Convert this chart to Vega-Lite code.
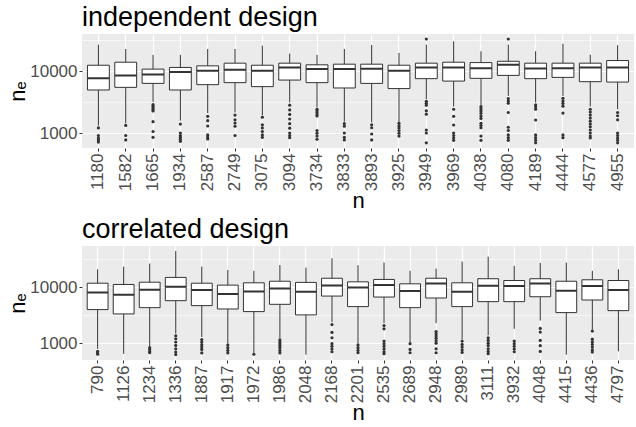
{
  "$schema": "https://vega.github.io/schema/vega-lite/v6.json",
  "padding": {"left": 6, "top": 4, "right": 0, "bottom": 0},
  "spacing": 4,
  "datasets": {
    "ind_box": [
      {"n": "1180", "lower": 1330, "q1": 5010, "median": 7730, "q3": 12600, "upper": 27100},
      {"n": "1582", "lower": 1450, "q1": 5530, "median": 8630, "q3": 14100, "upper": 23100},
      {"n": "1665", "lower": 3210, "q1": 6410, "median": 8950, "q3": 10900, "upper": 18500},
      {"n": "1934", "lower": 1600, "q1": 5010, "median": 9750, "q3": 11600, "upper": 18500},
      {"n": "2587", "lower": 2120, "q1": 6110, "median": 10250, "q3": 12300, "upper": 23100},
      {"n": "2749", "lower": 2170, "q1": 6590, "median": 10650, "q3": 13600, "upper": 23100},
      {"n": "3075", "lower": 1970, "q1": 5680, "median": 10250, "q3": 12600, "upper": 26100},
      {"n": "3094", "lower": 3150, "q1": 7250, "median": 11600, "q3": 13600, "upper": 19500},
      {"n": "3734", "lower": 2610, "q1": 6590, "median": 10900, "q3": 12800, "upper": 18500},
      {"n": "3833", "lower": 1540, "q1": 5400, "median": 10900, "q3": 13100, "upper": 23100},
      {"n": "3893", "lower": 1500, "q1": 6410, "median": 11000, "q3": 13100, "upper": 26800},
      {"n": "3925", "lower": 1500, "q1": 5280, "median": 10250, "q3": 12600, "upper": 19900},
      {"n": "3949", "lower": 3550, "q1": 7640, "median": 11600, "q3": 13600, "upper": 27100},
      {"n": "3969", "lower": 2710, "q1": 6980, "median": 11600, "q3": 14100, "upper": 30700},
      {"n": "4038", "lower": 2850, "q1": 7730, "median": 11300, "q3": 13900, "upper": 21200},
      {"n": "4080", "lower": 4020, "q1": 8630, "median": 12800, "q3": 14600, "upper": 27100},
      {"n": "4189", "lower": 3150, "q1": 7640, "median": 11170, "q3": 13600, "upper": 21200},
      {"n": "4444", "lower": 4020, "q1": 8010, "median": 11300, "q3": 13600, "upper": 28100},
      {"n": "4577", "lower": 2710, "q1": 6830, "median": 11600, "q3": 13600, "upper": 18700},
      {"n": "4955", "lower": 2450, "q1": 6730, "median": 11600, "q3": 15000, "upper": 26500}
    ],
    "ind_out": [
      {"n": "1180", "v": 1220}, {"n": "1180", "v": 920}, {"n": "1180", "v": 840}, {"n": "1180", "v": 780}, {"n": "1180", "v": 720},
      {"n": "1582", "v": 1340}, {"n": "1582", "v": 920}, {"n": "1582", "v": 780},
      {"n": "1665", "v": 2900}, {"n": "1665", "v": 2750}, {"n": "1665", "v": 2600}, {"n": "1665", "v": 2450}, {"n": "1665", "v": 2300}, {"n": "1665", "v": 1540}, {"n": "1665", "v": 1070}, {"n": "1665", "v": 860},
      {"n": "1934", "v": 1410}, {"n": "1934", "v": 1010}, {"n": "1934", "v": 920}, {"n": "1934", "v": 860}, {"n": "1934", "v": 800}, {"n": "1934", "v": 740},
      {"n": "2587", "v": 1880}, {"n": "2587", "v": 1600}, {"n": "2587", "v": 1310}, {"n": "2587", "v": 940}, {"n": "2587", "v": 870}, {"n": "2587", "v": 810},
      {"n": "2749", "v": 1970}, {"n": "2749", "v": 1650}, {"n": "2749", "v": 1460}, {"n": "2749", "v": 1300}, {"n": "2749", "v": 920},
      {"n": "3075", "v": 1820}, {"n": "3075", "v": 1370}, {"n": "3075", "v": 1220}, {"n": "3075", "v": 1070}, {"n": "3075", "v": 940}, {"n": "3075", "v": 860},
      {"n": "3094", "v": 2850}, {"n": "3094", "v": 2390}, {"n": "3094", "v": 2020}, {"n": "3094", "v": 1700}, {"n": "3094", "v": 1430}, {"n": "3094", "v": 1210}, {"n": "3094", "v": 1010}, {"n": "3094", "v": 920}, {"n": "3094", "v": 850},
      {"n": "3734", "v": 2450}, {"n": "3734", "v": 2300}, {"n": "3734", "v": 2150}, {"n": "3734", "v": 2000}, {"n": "3734", "v": 1900}, {"n": "3734", "v": 1110}, {"n": "3734", "v": 1000}, {"n": "3734", "v": 900}, {"n": "3734", "v": 800},
      {"n": "3833", "v": 1430}, {"n": "3833", "v": 1300}, {"n": "3833", "v": 1010}, {"n": "3833", "v": 860}, {"n": "3833", "v": 780},
      {"n": "3893", "v": 1370}, {"n": "3893", "v": 1230}, {"n": "3893", "v": 975}, {"n": "3893", "v": 780},
      {"n": "3925", "v": 1450}, {"n": "3925", "v": 1320}, {"n": "3925", "v": 1220}, {"n": "3925", "v": 1110}, {"n": "3925", "v": 1000}, {"n": "3925", "v": 900},
      {"n": "3949", "v": 33500}, {"n": "3949", "v": 3300}, {"n": "3949", "v": 3060}, {"n": "3949", "v": 2850}, {"n": "3949", "v": 2310}, {"n": "3949", "v": 2040}, {"n": "3949", "v": 1130}, {"n": "3949", "v": 1010}, {"n": "3949", "v": 700},
      {"n": "3969", "v": 2450}, {"n": "3969", "v": 1880}, {"n": "3969", "v": 1360}, {"n": "3969", "v": 1010}, {"n": "3969", "v": 920}, {"n": "3969", "v": 840}, {"n": "3969", "v": 770},
      {"n": "4038", "v": 2710}, {"n": "4038", "v": 2500}, {"n": "4038", "v": 2300}, {"n": "4038", "v": 2100}, {"n": "4038", "v": 1900}, {"n": "4038", "v": 1740}, {"n": "4038", "v": 1450}, {"n": "4038", "v": 1330}, {"n": "4038", "v": 1230}, {"n": "4038", "v": 900}, {"n": "4038", "v": 770},
      {"n": "4080", "v": 33500}, {"n": "4080", "v": 3640}, {"n": "4080", "v": 3340}, {"n": "4080", "v": 3060}, {"n": "4080", "v": 2170}, {"n": "4080", "v": 1250}, {"n": "4080", "v": 1110}, {"n": "4080", "v": 940}, {"n": "4080", "v": 850}, {"n": "4080", "v": 770},
      {"n": "4189", "v": 2880}, {"n": "4189", "v": 2670}, {"n": "4189", "v": 2450}, {"n": "4189", "v": 1640}, {"n": "4189", "v": 940}, {"n": "4189", "v": 850}, {"n": "4189", "v": 770}, {"n": "4189", "v": 700},
      {"n": "4444", "v": 3680}, {"n": "4444", "v": 3340}, {"n": "4444", "v": 3040}, {"n": "4444", "v": 2740}, {"n": "4444", "v": 2120}, {"n": "4444", "v": 940}, {"n": "4444", "v": 850},
      {"n": "4577", "v": 2450}, {"n": "4577", "v": 2200}, {"n": "4577", "v": 1970}, {"n": "4577", "v": 1760}, {"n": "4577", "v": 1570}, {"n": "4577", "v": 1410}, {"n": "4577", "v": 1270}, {"n": "4577", "v": 1130}, {"n": "4577", "v": 1010}, {"n": "4577", "v": 900}, {"n": "4577", "v": 840},
      {"n": "4955", "v": 2170}, {"n": "4955", "v": 1920}, {"n": "4955", "v": 1650}, {"n": "4955", "v": 1010}, {"n": "4955", "v": 920}, {"n": "4955", "v": 840}, {"n": "4955", "v": 770}, {"n": "4955", "v": 700}
    ],
    "cor_box": [
      {"n": "790", "lower": 800, "q1": 4020, "median": 8150, "q3": 11900, "upper": 21100},
      {"n": "1126", "lower": 650, "q1": 3360, "median": 7410, "q3": 11300, "upper": 23600},
      {"n": "1234", "lower": 885, "q1": 4350, "median": 9100, "q3": 12400, "upper": 26700},
      {"n": "1336", "lower": 1490, "q1": 5800, "median": 10300, "q3": 15100, "upper": 44800},
      {"n": "1887", "lower": 1300, "q1": 4730, "median": 8970, "q3": 11900, "upper": 23600},
      {"n": "1917", "lower": 1010, "q1": 4120, "median": 7620, "q3": 11000, "upper": 20600},
      {"n": "1972", "lower": 675, "q1": 3700, "median": 8490, "q3": 12100, "upper": 19800},
      {"n": "1986", "lower": 1240, "q1": 4990, "median": 9600, "q3": 12900, "upper": 25200},
      {"n": "2048", "lower": 630, "q1": 3230, "median": 8380, "q3": 12300, "upper": 22600},
      {"n": "2168", "lower": 2390, "q1": 7010, "median": 10800, "q3": 14600, "upper": 33200},
      {"n": "2201", "lower": 1010, "q1": 4540, "median": 10000, "q3": 12600, "upper": 24900},
      {"n": "2535", "lower": 2300, "q1": 6730, "median": 11100, "q3": 13900, "upper": 27800},
      {"n": "2689", "lower": 1040, "q1": 4350, "median": 8610, "q3": 11600, "upper": 19800},
      {"n": "2948", "lower": 2300, "q1": 6470, "median": 11800, "q3": 14600, "upper": 21700},
      {"n": "2989", "lower": 1190, "q1": 4540, "median": 8380, "q3": 12100, "upper": 29000},
      {"n": "3111", "lower": 1390, "q1": 5570, "median": 10700, "q3": 14300, "upper": 35500},
      {"n": "3932", "lower": 1820, "q1": 5570, "median": 10600, "q3": 13300, "upper": 24300},
      {"n": "4048", "lower": 2560, "q1": 6820, "median": 11800, "q3": 14300, "upper": 27400},
      {"n": "4415", "lower": 630, "q1": 3550, "median": 8730, "q3": 12900, "upper": 27800},
      {"n": "4436", "lower": 1750, "q1": 5960, "median": 10600, "q3": 13700, "upper": 19800},
      {"n": "4797", "lower": 720, "q1": 3850, "median": 8970, "q3": 13300, "upper": 21100}
    ],
    "cor_out": [
      {"n": "790", "v": 720}, {"n": "790", "v": 675}, {"n": "790", "v": 640},
      {"n": "1234", "v": 840}, {"n": "1234", "v": 775}, {"n": "1234", "v": 715}, {"n": "1234", "v": 680},
      {"n": "1336", "v": 1370}, {"n": "1336", "v": 1210}, {"n": "1336", "v": 1060}, {"n": "1336", "v": 920}, {"n": "1336", "v": 800}, {"n": "1336", "v": 700}, {"n": "1336", "v": 630},
      {"n": "1887", "v": 1170}, {"n": "1887", "v": 1060}, {"n": "1887", "v": 950}, {"n": "1887", "v": 860}, {"n": "1887", "v": 780}, {"n": "1887", "v": 675},
      {"n": "1917", "v": 940}, {"n": "1917", "v": 840}, {"n": "1917", "v": 750}, {"n": "1917", "v": 675},
      {"n": "1972", "v": 640},
      {"n": "1986", "v": 1160}, {"n": "1986", "v": 1070}, {"n": "1986", "v": 990}, {"n": "1986", "v": 910}, {"n": "1986", "v": 840}, {"n": "1986", "v": 750}, {"n": "1986", "v": 675},
      {"n": "2168", "v": 2170}, {"n": "2168", "v": 1570}, {"n": "2168", "v": 1260}, {"n": "2168", "v": 990}, {"n": "2168", "v": 885}, {"n": "2168", "v": 790}, {"n": "2168", "v": 710},
      {"n": "2201", "v": 940}, {"n": "2201", "v": 840}, {"n": "2201", "v": 750}, {"n": "2201", "v": 680},
      {"n": "2535", "v": 2090}, {"n": "2535", "v": 1820}, {"n": "2535", "v": 1100}, {"n": "2535", "v": 990}, {"n": "2535", "v": 885}, {"n": "2535", "v": 790}, {"n": "2535", "v": 710}, {"n": "2535", "v": 655},
      {"n": "2689", "v": 990}, {"n": "2689", "v": 780}, {"n": "2689", "v": 680},
      {"n": "2948", "v": 1630}, {"n": "2948", "v": 1490}, {"n": "2948", "v": 1350}, {"n": "2948", "v": 1230}, {"n": "2948", "v": 1110}, {"n": "2948", "v": 1010}, {"n": "2948", "v": 800}, {"n": "2948", "v": 680},
      {"n": "2989", "v": 1100}, {"n": "2989", "v": 960}, {"n": "2989", "v": 860}, {"n": "2989", "v": 770}, {"n": "2989", "v": 690},
      {"n": "3111", "v": 1260}, {"n": "3111", "v": 1130}, {"n": "3111", "v": 1010}, {"n": "3111", "v": 910}, {"n": "3111", "v": 800}, {"n": "3111", "v": 720}, {"n": "3111", "v": 655},
      {"n": "3932", "v": 1100}, {"n": "3932", "v": 990}, {"n": "3932", "v": 885}, {"n": "3932", "v": 790}, {"n": "3932", "v": 710},
      {"n": "4048", "v": 1850}, {"n": "4048", "v": 1590}, {"n": "4048", "v": 1130}, {"n": "4048", "v": 910}, {"n": "4048", "v": 720},
      {"n": "4436", "v": 1660}, {"n": "4436", "v": 1190}, {"n": "4436", "v": 1070}, {"n": "4436", "v": 960}, {"n": "4436", "v": 860}, {"n": "4436", "v": 770}, {"n": "4436", "v": 700}
    ],
    "minor": [{"g": 3162.28}, {"g": 31622.8}]
  },
  "vconcat": [
    {
      "title": "independent design",
      "width": 552,
      "height": 114,
      "layer": [
        {
          "data": {"name": "minor"},
          "mark": {"type": "rule", "color": "#FFFFFF", "strokeWidth": 0.6},
          "encoding": {
            "y": {"field": "g", "type": "quantitative", "scale": {"type": "log", "domain": [578, 40300], "nice": false},
                  "axis": {"values": [1000, 10000], "format": "d", "title": "nₑ"}}
          }
        },
        {
          "data": {"name": "ind_box"},
          "mark": {"type": "rule", "color": "#333333", "strokeWidth": 1},
          "encoding": {
            "x": {"field": "n", "type": "nominal", "sort": null,
                  "scale": {"domain": ["1180","1582","1665","1934","2587","2749","3075","3094","3734","3833","3893","3925","3949","3969","4038","4080","4189","4444","4577","4955"], "paddingInner": 0.2, "paddingOuter": 0.2},
                  "axis": {"title": "n", "labelAngle": 270, "bandPosition": 0.5, "grid": true}},
            "y": {"field": "lower", "type": "quantitative", "scale": {"type": "log", "domain": [578, 40300], "nice": false}},
            "y2": {"field": "upper"}
          }
        },
        {
          "data": {"name": "ind_box"},
          "mark": {"type": "bar", "fill": "#FFFFFF", "stroke": "#333333", "strokeWidth": 1},
          "encoding": {
            "x": {"field": "n", "type": "nominal", "sort": null},
            "y": {"field": "q1", "type": "quantitative", "scale": {"type": "log", "domain": [578, 40300], "nice": false}},
            "y2": {"field": "q3"}
          }
        },
        {
          "data": {"name": "ind_box"},
          "mark": {"type": "bar", "fill": "#333333", "stroke": "#333333", "strokeWidth": 2},
          "encoding": {
            "x": {"field": "n", "type": "nominal", "sort": null},
            "y": {"field": "median", "type": "quantitative", "scale": {"type": "log", "domain": [578, 40300], "nice": false}},
            "y2": {"field": "median"}
          }
        },
        {
          "data": {"name": "ind_out"},
          "mark": {"type": "circle", "color": "#333333", "size": 10, "opacity": 1},
          "encoding": {
            "x": {"field": "n", "type": "nominal", "sort": null},
            "y": {"field": "v", "type": "quantitative", "scale": {"type": "log", "domain": [578, 40300], "nice": false}}
          }
        }
      ]
    },
    {
      "title": "correlated design",
      "width": 552,
      "height": 114,
      "layer": [
        {
          "data": {"name": "minor"},
          "mark": {"type": "rule", "color": "#FFFFFF", "strokeWidth": 0.6},
          "encoding": {
            "y": {"field": "g", "type": "quantitative", "scale": {"type": "log", "domain": [505, 55000], "nice": false},
                  "axis": {"values": [1000, 10000], "format": "d", "title": "nₑ"}}
          }
        },
        {
          "data": {"name": "cor_box"},
          "mark": {"type": "rule", "color": "#333333", "strokeWidth": 1},
          "encoding": {
            "x": {"field": "n", "type": "nominal", "sort": null,
                  "scale": {"domain": ["790","1126","1234","1336","1887","1917","1972","1986","2048","2168","2201","2535","2689","2948","2989","3111","3932","4048","4415","4436","4797"], "paddingInner": 0.2, "paddingOuter": 0.2},
                  "axis": {"title": "n", "labelAngle": 270, "bandPosition": 0.5, "grid": true}},
            "y": {"field": "lower", "type": "quantitative", "scale": {"type": "log", "domain": [505, 55000], "nice": false}},
            "y2": {"field": "upper"}
          }
        },
        {
          "data": {"name": "cor_box"},
          "mark": {"type": "bar", "fill": "#FFFFFF", "stroke": "#333333", "strokeWidth": 1},
          "encoding": {
            "x": {"field": "n", "type": "nominal", "sort": null},
            "y": {"field": "q1", "type": "quantitative", "scale": {"type": "log", "domain": [505, 55000], "nice": false}},
            "y2": {"field": "q3"}
          }
        },
        {
          "data": {"name": "cor_box"},
          "mark": {"type": "bar", "fill": "#333333", "stroke": "#333333", "strokeWidth": 2},
          "encoding": {
            "x": {"field": "n", "type": "nominal", "sort": null},
            "y": {"field": "median", "type": "quantitative", "scale": {"type": "log", "domain": [505, 55000], "nice": false}},
            "y2": {"field": "median"}
          }
        },
        {
          "data": {"name": "cor_out"},
          "mark": {"type": "circle", "color": "#333333", "size": 10, "opacity": 1},
          "encoding": {
            "x": {"field": "n", "type": "nominal", "sort": null},
            "y": {"field": "v", "type": "quantitative", "scale": {"type": "log", "domain": [505, 55000], "nice": false}}
          }
        }
      ]
    }
  ],
  "config": {
    "font": "Liberation Sans",
    "background": "#FFFFFF",
    "view": {"fill": "#EBEBEB", "stroke": null},
    "title": {"fontSize": 27, "fontWeight": "normal", "anchor": "start", "frame": "group", "color": "#000000", "offset": 2},
    "axis": {"labelFontSize": 17, "labelColor": "#4D4D4D", "tickColor": "#333333", "tickSize": 3, "domain": false,
             "gridColor": "#FFFFFF", "gridWidth": 1.2, "titleFontWeight": "normal", "titleFontSize": 22, "titleColor": "#000000",
             "labelPadding": 2, "titlePadding": 0}
  }
}
